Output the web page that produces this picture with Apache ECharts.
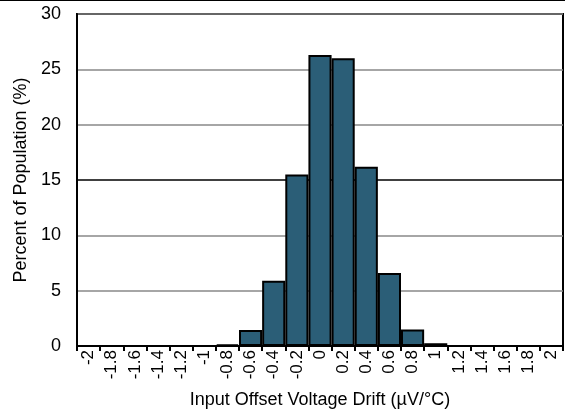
<!DOCTYPE html>
<html>
<head>
<meta charset="utf-8">
<script src="https://cdn.jsdelivr.net/npm/echarts@6/dist/echarts.min.js"></script>
<style>html,body{margin:0;padding:0;background:#fff;}#c{width:565px;height:416px;}</style>
</head>
<body>
<div id="c"></div>
<script>
var categories = ['-2','-1.8','-1.6','-1.4','-1.2','-1','-0.8','-0.6','-0.4','-0.2','0','0.2','0.4','0.6','0.8','1','1.2','1.4','1.6','1.8','2'];
var percent = [0,0,0,0,0,0,0.15,1.45,5.9,15.5,26.3,26.0,16.2,6.6,1.5,0.25,0,0,0,0,0];
var yTicks = [0,5,10,15,20,25,30];

var font = '"Liberation Sans", Arial, Helvetica, sans-serif';
var chart = echarts.init(document.getElementById('c'));
chart.setOption({
  animation: false,
  backgroundColor: '#fff',
  graphic: [{type:'rect', shape:{x:0,y:0,width:565,height:1}, style:{fill:'#000'}}],
  grid: {left: 77, right: 2, top: 14, bottom: 70, show: true, borderColor: '#000', borderWidth: 2, backgroundColor: 'transparent'},
  xAxis: {
    type: 'category',
    data: categories,
    boundaryGap: true,
    name: 'Input Offset Voltage Drift (µV/°C)',
    nameLocation: 'middle',
    nameGap: 45,
    nameTextStyle: {fontFamily: font, fontSize: 18, color: '#000'},
    axisLine: {lineStyle: {color: '#000', width: 2}},
    axisTick: {show: true, length: 5, lineStyle: {color: '#000', width: 2}},
    axisLabel: {rotate: 90, interval: 0, margin: 4, fontFamily: font, fontSize: 17, color: '#000'},
    splitLine: {show: false}
  },
  yAxis: {
    type: 'value',
    min: yTicks[0],
    max: yTicks[yTicks.length-1],
    interval: 5,
    name: 'Percent of Population (%)',
    nameLocation: 'middle',
    nameGap: 45,
    nameTextStyle: {fontFamily: font, fontSize: 18, color: '#000'},
    axisLine: {show: true, lineStyle: {color: '#000', width: 2}},
    axisTick: {show: false},
    axisLabel: {margin: 16, fontFamily: font, fontSize: 18, color: '#000'},
    splitLine: {show: true, lineStyle: {color: ['#888','#888','#888','#000','#888','#888','#888'], width: 1.5}}
  },
  series: [{
    type: 'bar',
    data: percent,
    barCategoryGap: '0%',
    itemStyle: {color: '#2b5e77', borderColor: '#000', borderWidth: 2}
  }]
});
</script>
</body>
</html>
